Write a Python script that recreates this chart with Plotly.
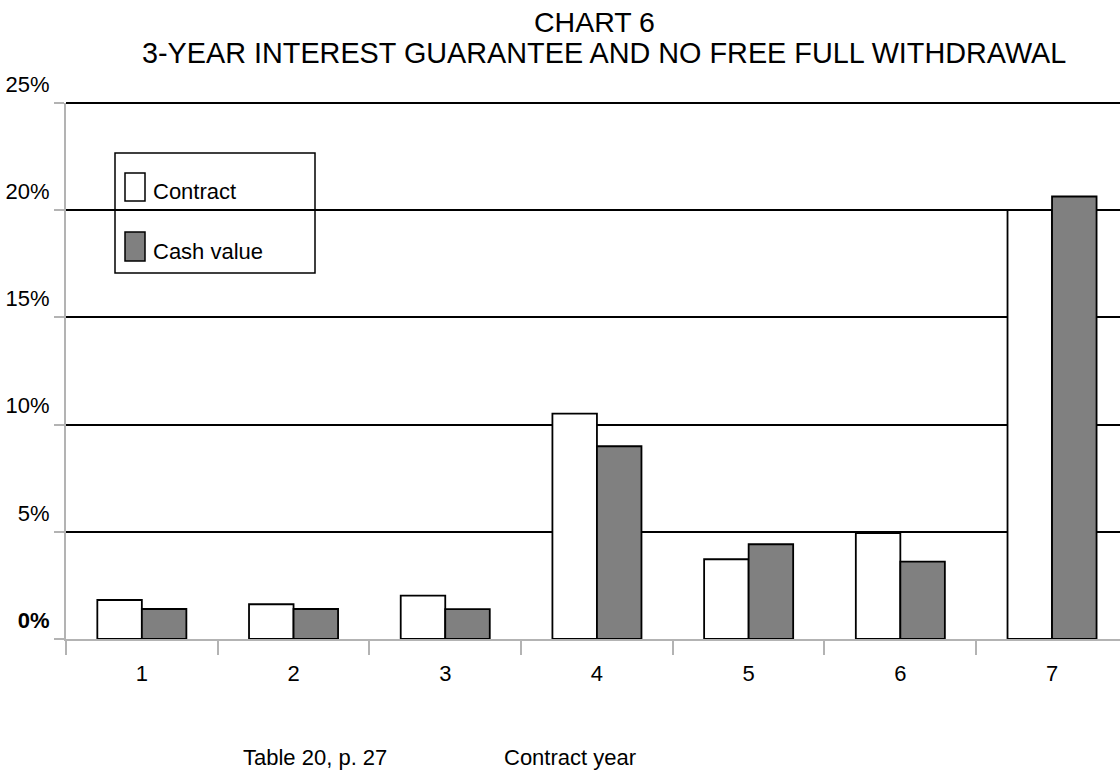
import plotly.graph_objects as go

# Contract year categories and percentage changes for each series
years = ["1", "2", "3", "4", "5", "6", "7"]
contract = [1.82, 1.62, 2.02, 10.51, 3.72, 4.94, 20.0]
cash_value = [1.40, 1.40, 1.39, 8.99, 4.42, 3.61, 20.64]
series_names = ["Contract", "Cash value"]
y_ticks = [0, 5, 10, 15, 20, 25]
y_tick_labels = ["<b>0%</b>", "5%", "10%", "15%", "20%", "25%"]
y_max = 25
title_lines = ["CHART 6", "3-YEAR INTEREST GUARANTEE AND NO FREE FULL WITHDRAWAL"]
source_note = "Table 20, p. 27"
x_title = "Contract year"

W, H = 1120, 770
L, R, T, B = 66, 0, 103, 131
FONT = "Liberation Sans, Arial, sans-serif"
AXIS_GREY = "#b3b3b3"


def px_x(px):
    return (px - L) / (W - L - R)


def px_y(py):
    return (H - B - py) / (H - T - B)


fig = go.Figure()
fig.add_trace(go.Bar(
    x=years, y=contract, name=series_names[0],
    marker=dict(color="white", line=dict(color="black", width=1.8)),
))
fig.add_trace(go.Bar(
    x=years, y=cash_value, name=series_names[1],
    marker=dict(color="#808080", line=dict(color="black", width=1.8)),
))

shapes = [
    # gridline along the top edge of the value range (plotly skips the edge gridline);
    # paper refs keep the full stroke width from being clipped
    dict(type="line", xref="paper", yref="paper", x0=0, x1=1, y0=1, y1=1,
         line=dict(color="black", width=2), layer="above"),
    # legend box drawn by hand: outline, tall swatches
    dict(type="rect", xref="paper", yref="paper",
         x0=px_x(115), x1=px_x(315), y0=px_y(273), y1=px_y(153),
         line=dict(color="black", width=1.5), fillcolor="rgba(0,0,0,0)"),
    dict(type="rect", xref="paper", yref="paper",
         x0=px_x(125), x1=px_x(145), y0=px_y(201), y1=px_y(173),
         line=dict(color="black", width=1.5), fillcolor="white"),
    dict(type="rect", xref="paper", yref="paper",
         x0=px_x(125), x1=px_x(145), y0=px_y(261), y1=px_y(232),
         line=dict(color="black", width=1.5), fillcolor="#808080"),
]

annotations = [
    dict(text=series_names[0], xref="paper", yref="paper",
         x=px_x(151), y=px_y(191), xanchor="left", yanchor="middle",
         showarrow=False, font=dict(size=22, color="black", family=FONT)),
    dict(text=series_names[1], xref="paper", yref="paper",
         x=px_x(151), y=px_y(251), xanchor="left", yanchor="middle",
         showarrow=False, font=dict(size=22, color="black", family=FONT)),
    dict(text=title_lines[0], xref="paper", yref="paper",
         x=px_x(594), y=px_y(22), xanchor="center", yanchor="middle",
         showarrow=False, font=dict(size=28.5, color="black", family=FONT)),
    dict(text=title_lines[1], xref="paper", yref="paper",
         x=px_x(604), y=px_y(53), xanchor="center", yanchor="middle",
         showarrow=False, font=dict(size=28.8, color="black", family=FONT)),
    dict(text=source_note, xref="paper", yref="paper",
         x=px_x(315), y=px_y(757), xanchor="center", yanchor="middle",
         showarrow=False, font=dict(size=22, color="black", family=FONT)),
    dict(text=x_title, xref="paper", yref="paper",
         x=px_x(570), y=px_y(757), xanchor="center", yanchor="middle",
         showarrow=False, font=dict(size=22, color="black", family=FONT)),
]

fig.update_layout(
    width=W, height=H,
    margin=dict(l=L, r=R, t=T, b=B, pad=0),
    paper_bgcolor="white", plot_bgcolor="white",
    barmode="group", bargap=0.413, bargroupgap=0,
    showlegend=False,
    font=dict(family=FONT, size=22, color="black"),
    shapes=shapes, annotations=annotations,
)

fig.update_xaxes(
    type="category", range=[-0.5, 6.448],
    tickson="boundaries", ticks="outside", ticklen=14, tickwidth=2,
    tickcolor=AXIS_GREY, showline=True, linecolor=AXIS_GREY, linewidth=2,
    showgrid=False, ticklabelstandoff=14,
    tickfont=dict(size=22, color="black", family=FONT),
)
fig.update_yaxes(
    range=[0, y_max], tickvals=y_ticks, ticktext=y_tick_labels,
    ticks="outside", ticklen=10, tickwidth=2, tickcolor=AXIS_GREY,
    showline=True, linecolor=AXIS_GREY, linewidth=2,
    showgrid=True, gridcolor="black", gridwidth=2, zeroline=False,
    ticklabelshift=-19,
    tickfont=dict(size=22, color="black", family=FONT),
)

fig.write_html("out.html")
